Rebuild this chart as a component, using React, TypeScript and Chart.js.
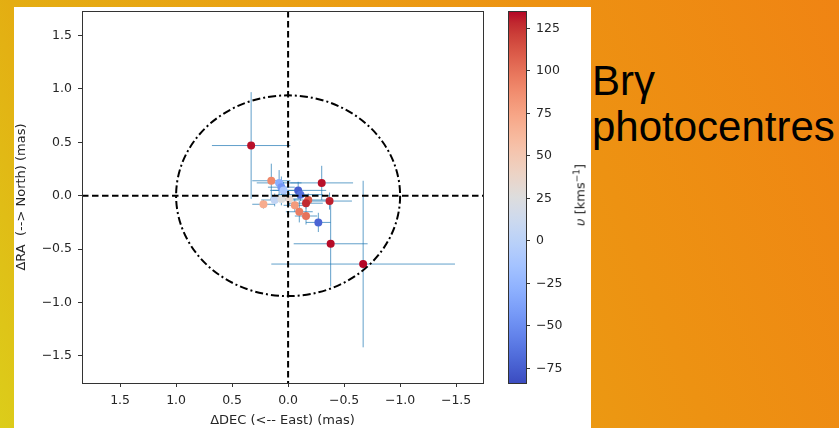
import { useEffect, useRef } from "react";
import { Chart, registerables } from "chart.js";

Chart.register(...registerables);

// ---- data ----
const DEC = [0.33, 0.15, 0.08, 0.06, 0.04, 0.12, 0.22, 0.06, -0.01, -0.09, -0.11, -0.18, -0.16, -0.06, -0.1, -0.16, -0.27, -0.3, -0.37, -0.38, -0.67];
const RA = [0.47, 0.14, 0.12, 0.08, 0.05, -0.04, -0.08, -0.03, -0.03, 0.05, 0.01, -0.04, -0.07, -0.09, -0.15, -0.19, -0.25, 0.12, -0.05, -0.45, -0.64];
const DEC_ERR = [0.35, 0.17, 0.2, 0.12, 0.1, 0.12, 0.1, 0.1, 0.1, 0.25, 0.2, 0.2, 0.15, 0.1, 0.12, 0.1, 0.11, 0.28, 0.2, 0.33, 0.82];
const RA_ERR = [0.5, 0.16, 0.12, 0.1, 0.08, 0.06, 0.04, 0.06, 0.06, 0.08, 0.06, 0.06, 0.05, 0.06, 0.1, 0.08, 0.09, 0.16, 0.08, 0.4, 0.78];
const VEL = [133, 90, -30, -45, -10, 5, 70, 25, 35, -75, -65, 110, 128, 80, 95, 100, -72, 133, 130, 134, 135];

const X_TICKS = [1.5, 1.0, 0.5, 0.0, -0.5, -1.0, -1.5];
const Y_TICKS = [1.5, 1.0, 0.5, 0.0, -0.5, -1.0, -1.5];
const CB_TICKS = [125, 100, 75, 50, 25, 0, -25, -50, -75];

const X_MIN = -1.74;
const X_MAX = 1.84;
const Y_MIN = -1.754;
const Y_MAX = 1.73;
const V_MIN = -83.6;
const V_MAX = 135.3;
const RING_RX = 1.0;
const RING_RY = 0.94;

const X_TITLE = "\u0394DEC (<-- East) (mas)";
const Y_TITLE = "\u0394RA  (--> North) (mas)";

// matplotlib "coolwarm"
const COOLWARM: number[][] = [
  [59, 76, 192], [68, 90, 204], [77, 104, 215], [87, 117, 225], [98, 130, 234],
  [108, 142, 241], [119, 154, 247], [130, 165, 251], [141, 176, 254], [152, 185, 255],
  [163, 194, 255], [174, 201, 253], [184, 208, 249], [194, 213, 244], [204, 217, 238],
  [213, 219, 230], [221, 221, 221], [229, 216, 209], [236, 211, 197], [241, 204, 185],
  [245, 196, 173], [247, 187, 160], [247, 177, 148], [247, 166, 135], [244, 154, 123],
  [241, 141, 111], [236, 127, 99], [229, 112, 88], [222, 96, 77], [213, 80, 66],
  [203, 62, 56], [192, 40, 47], [180, 4, 38],
];

function cmap(t: number): string {
  const c = Math.max(0, Math.min(1, t)) * (COOLWARM.length - 1);
  const i = Math.min(COOLWARM.length - 2, Math.floor(c));
  const f = c - i;
  const a = COOLWARM[i];
  const b = COOLWARM[i + 1];
  const r = Math.round(a[0] + (b[0] - a[0]) * f);
  const g = Math.round(a[1] + (b[1] - a[1]) * f);
  const bl = Math.round(a[2] + (b[2] - a[2]) * f);
  return `rgb(${r},${g},${bl})`;
}

const fmt1 = (v: number) => v.toFixed(1).replace("-", "\u2212");
const fmt0 = (v: number) => String(v).replace("-", "\u2212");

const FONT = "'DejaVu Sans', sans-serif";
const INK = "#262626";

const noPad = (s: any) => {
  s.paddingTop = 0;
  s.paddingBottom = 0;
  s.paddingLeft = 0;
  s.paddingRight = 0;
};

const overlayPlugin = {
  id: "overlay",
  beforeDatasetsDraw(chart: any) {
    const { ctx, chartArea: a, scales } = chart;
    const xs = scales.x;
    const ys = scales.y;
    ctx.save();
    ctx.beginPath();
    ctx.rect(a.left, a.top, a.right - a.left, a.bottom - a.top);
    ctx.clip();
    ctx.strokeStyle = "rgba(31,119,180,0.7)";
    ctx.lineWidth = 1;
    for (let i = 0; i < DEC.length; i++) {
      const px = xs.getPixelForValue(DEC[i]);
      const py = ys.getPixelForValue(RA[i]);
      ctx.beginPath();
      ctx.moveTo(xs.getPixelForValue(DEC[i] - DEC_ERR[i]), py);
      ctx.lineTo(xs.getPixelForValue(DEC[i] + DEC_ERR[i]), py);
      ctx.moveTo(px, ys.getPixelForValue(RA[i] - RA_ERR[i]));
      ctx.lineTo(px, ys.getPixelForValue(RA[i] + RA_ERR[i]));
      ctx.stroke();
    }
    ctx.restore();
  },
  afterDatasetsDraw(chart: any) {
    const { ctx, chartArea: a, scales } = chart;
    const xs = scales.x;
    const ys = scales.y;
    const x0 = xs.getPixelForValue(0);
    const y0 = ys.getPixelForValue(0);
    ctx.save();
    ctx.beginPath();
    ctx.rect(a.left, a.top, a.right - a.left, a.bottom - a.top);
    ctx.clip();
    ctx.strokeStyle = "#000";
    ctx.lineWidth = 2;
    ctx.setLineDash([6.5, 3.5]);
    ctx.beginPath();
    ctx.moveTo(a.left, y0);
    ctx.lineTo(a.right, y0);
    ctx.moveTo(x0, a.top);
    ctx.lineTo(x0, a.bottom);
    ctx.stroke();
    const rx = Math.abs(xs.getPixelForValue(RING_RX) - x0);
    const ry = Math.abs(ys.getPixelForValue(RING_RY) - y0);
    ctx.setLineDash([8, 3, 2, 3]);
    ctx.beginPath();
    ctx.ellipse(x0, y0, rx, ry, 0, 0, Math.PI * 2);
    ctx.stroke();
    ctx.restore();
    ctx.save();
    ctx.strokeStyle = "#333";
    ctx.lineWidth = 1;
    ctx.strokeRect(Math.round(a.left) + 0.5, Math.round(a.top) + 0.5, Math.round(a.right - a.left), Math.round(a.bottom - a.top));
    ctx.restore();
  },
};

const colorbarPlugin = {
  id: "colorbar",
  beforeDatasetsDraw(chart: any) {
    const { ctx, chartArea: a } = chart;
    const g = ctx.createLinearGradient(0, a.bottom, 0, a.top);
    for (let i = 0; i < COOLWARM.length; i++) {
      const t = i / (COOLWARM.length - 1);
      g.addColorStop(t, cmap(t));
    }
    ctx.save();
    ctx.fillStyle = g;
    ctx.fillRect(a.left, a.top, a.right - a.left, a.bottom - a.top);
    ctx.strokeStyle = "#333";
    ctx.lineWidth = 1;
    ctx.strokeRect(Math.round(a.left) + 0.5, Math.round(a.top) + 0.5, Math.round(a.right - a.left), Math.round(a.bottom - a.top));
    ctx.restore();
  },
};

export default function App() {
  const mainRef = useRef<HTMLCanvasElement>(null);
  const cbRef = useRef<HTMLCanvasElement>(null);

  useEffect(() => {
    const points = DEC.map((x, i) => ({ x, y: RA[i] }));
    const colors = VEL.map((v) => cmap((v - V_MIN) / (V_MAX - V_MIN)));
    const main = new Chart(mainRef.current!, {
      type: "scatter",
      data: {
        datasets: [
          {
            data: points,
            pointBackgroundColor: colors,
            pointBorderWidth: 0,
            pointRadius: 4,
            pointHoverRadius: 4,
          },
        ],
      },
      options: {
        animation: false,
        responsive: false,
        events: [],
        layout: { padding: { left: 0, right: 6, top: 4, bottom: 0 } },
        plugins: { legend: { display: false }, tooltip: { enabled: false } },
        scales: {
          x: {
            type: "linear",
            reverse: true,
            min: X_MIN,
            max: X_MAX,
            afterBuildTicks: (s: any) => {
              s.ticks = X_TICKS.map((v) => ({ value: v }));
            },
            afterFit: (s: any) => {
              s.height = 45;
              noPad(s);
            },
            grid: { display: true, drawOnChartArea: false, drawTicks: true, tickLength: 4, color: "#333" },
            border: { display: false },
            ticks: { color: INK, font: { family: FONT, size: 12.5 }, padding: 6, maxRotation: 0, callback: (v: any) => fmt1(Number(v)) },
            title: { display: true, text: X_TITLE, color: INK, font: { family: FONT, size: 13 }, padding: { top: 3, bottom: 0 } },
          },
          y: {
            type: "linear",
            min: Y_MIN,
            max: Y_MAX,
            afterBuildTicks: (s: any) => {
              s.ticks = Y_TICKS.map((v) => ({ value: v }));
            },
            afterFit: (s: any) => {
              s.width = 68;
              noPad(s);
            },
            grid: { display: true, drawOnChartArea: false, drawTicks: true, tickLength: 4, color: "#333" },
            border: { display: false },
            ticks: { color: INK, font: { family: FONT, size: 12.5 }, padding: 6, callback: (v: any) => fmt1(Number(v)) },
            title: { display: true, text: Y_TITLE, color: INK, font: { family: FONT, size: 13 }, padding: { top: 0, bottom: 0 } },
          },
        },
      },
      plugins: [overlayPlugin],
    });

    const cb = new Chart(cbRef.current!, {
      type: "scatter",
      data: { datasets: [{ data: [] }] },
      options: {
        animation: false,
        responsive: false,
        events: [],
        layout: { padding: { left: 8, right: 0, top: 11, bottom: 17 } },
        plugins: { legend: { display: false }, tooltip: { enabled: false } },
        scales: {
          x: { display: false, min: 0, max: 1 },
          y: {
            type: "linear",
            position: "right",
            min: V_MIN,
            max: V_MAX,
            afterBuildTicks: (s: any) => {
              s.ticks = CB_TICKS.map((v) => ({ value: v }));
            },
            afterFit: (s: any) => {
              s.width = 54;
              noPad(s);
            },
            grid: { display: true, drawOnChartArea: false, drawTicks: true, tickLength: 4, color: "#333" },
            border: { display: false },
            ticks: { color: INK, font: { family: FONT, size: 12.5 }, padding: 6, callback: (v: any) => fmt0(Number(v)) },
          },
        },
      },
      plugins: [colorbarPlugin],
    });

    return () => {
      main.destroy();
      cb.destroy();
    };
  }, []);

  return (
    <div
      style={{
        position: "fixed",
        left: 0,
        top: 0,
        width: 839,
        height: 428,
        overflow: "hidden",
        background: "linear-gradient(68deg, #dccd1a 0%, #e4ad12 18%, #eaa012 45%, #ed9212 70%, #f08413 100%)",
      }}
    >
      <div style={{ position: "absolute", left: 14, top: 7, width: 577, height: 421, background: "#fff" }} />
      <canvas ref={mainRef} width={475} height={421} style={{ position: "absolute", left: 14, top: 7 }} />
      <canvas ref={cbRef} width={80} height={400} style={{ position: "absolute", left: 500, top: 0 }} />
      <div
        style={{
          position: "absolute",
          left: 580,
          top: 195,
          transform: "translate(-50%, -50%) rotate(-90deg)",
          whiteSpace: "nowrap",
          fontFamily: FONT,
          fontSize: 13,
          lineHeight: 1,
          color: INK,
        }}
      >
        <i>υ</i> [kms<sup style={{ fontSize: "0.7em", verticalAlign: "0.55em", lineHeight: 0 }}>{"\u22121"}</sup>]
      </div>
      <div
        style={{
          position: "absolute",
          left: 592,
          top: 58,
          fontFamily: "'Liberation Sans', Arial, sans-serif",
          fontSize: 42,
          lineHeight: "46px",
          color: "#000",
          whiteSpace: "nowrap",
        }}
      >
        <div>Brγ</div>
        <div>photocentres</div>
      </div>
    </div>
  );
}
